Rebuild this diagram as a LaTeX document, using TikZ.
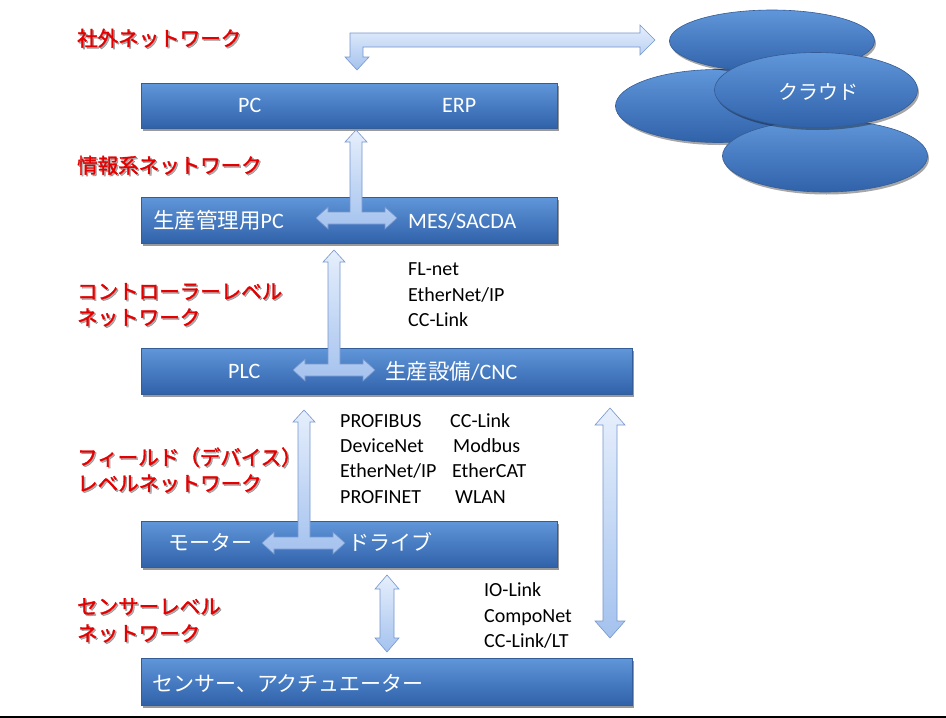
\documentclass[tikz,border=0pt]{standalone}
\usepackage{fontspec}
\setmainfont{Carlito}
\newfontfamily\jp{Noto Sans CJK JP}
\newfontfamily\jpb[FakeBold=1.6]{Noto Sans CJK JP}
\usetikzlibrary{shadows,shapes.geometric}
\definecolor{barTop}{RGB}{96,150,218}
\definecolor{barBot}{RGB}{48,98,170}
\definecolor{barEdge}{RGB}{52,92,150}
\definecolor{arrTop}{RGB}{230,239,252}
\definecolor{arrBot}{RGB}{164,194,238}
\definecolor{arrEdge}{RGB}{118,150,205}
\definecolor{lblred}{RGB}{228,0,0}
\definecolor{baseline}{RGB}{58,72,88}
\begin{document}
\begin{tikzpicture}[x=1pt,y=-1pt,
  bar/.style={rectangle, draw=barEdge, line width=0.6pt, top color=barTop, bottom color=barBot,
    drop shadow={shadow xshift=1.5pt, shadow yshift=-2.5pt, opacity=0.4, fill=black}, inner sep=0pt},
  cloudell/.style={ellipse, draw=barEdge, line width=0.6pt, top color=barTop, bottom color=barBot,
    drop shadow={shadow xshift=1.5pt, shadow yshift=-2.5pt, opacity=0.35, fill=black}, inner sep=0pt},
  blockarrow/.style={draw=arrEdge, line width=0.6pt, top color=arrTop, bottom color=arrBot, line join=miter},
  bartxt/.style={text=white, font=\fontsize{22}{26}\selectfont, anchor=base west, inner sep=0pt},
  redtxt/.style={text=lblred, font=\jpb\fontsize{20.5}{26}\selectfont, anchor=base west, inner sep=0pt},
  redshadow/.style={text=black, opacity=0.3, font=\jpb\fontsize{20.5}{26}\selectfont, anchor=base west, inner sep=0pt},
  blktxt/.style={text=black, font=\fontsize{20}{24}\selectfont, anchor=base west, inner sep=0pt}
]
\useasboundingbox (0,0) rectangle (946,718);
\fill[white] (0,0) rectangle (946,718);
\fill[baseline] (0,715.5) rectangle (946,718);

% ---- bars
\node[bar, minimum width=416, minimum height=45] (bar1) at (349,105.5) {};
\node[bar, minimum width=416, minimum height=46] (bar2) at (349,220) {};
\node[bar, minimum width=491, minimum height=46] (bar3) at (386.5,371) {};
\node[bar, minimum width=416, minimum height=46] (bar4) at (349,544) {};
\node[bar, minimum width=491, minimum height=47] (bar5) at (386.5,681.5) {};

% ---- cloud
\node[cloudell, minimum width=205, minimum height=73] (cB) at (718,106) {};
\node[cloudell, minimum width=205, minimum height=62] (cA) at (772,41) {};
\node[cloudell, minimum width=205, minimum height=72] (cC) at (825,156) {};
\node[cloudell, minimum width=203, minimum height=75] (cD) at (816,90) {};
\node[text=white, font=\jp\fontsize{20}{24}\selectfont, inner sep=0pt] (cloudtxt) at (818,92) {クラウド};

% ---- block arrows
\path[blockarrow] (357,70) -- (345,57) -- (350,57) -- (350,33) -- (640,33) -- (640,25) -- (655,40)
  -- (640,55) -- (640,47) -- (363,47) -- (363,57) -- (369,57) -- cycle;
\path[blockarrow] (316,218) -- (328,207) -- (328,212) -- (350,212) -- (350,142) -- (345,142) -- (356,130)
  -- (367,142) -- (362,142) -- (362,212) -- (385,212) -- (385,207) -- (397,218) -- (385,229)
  -- (385,224) -- (328,224) -- (328,229) -- cycle;
\path[blockarrow] (293,370) -- (305,359) -- (305,364) -- (328,364) -- (328,262) -- (323,262) -- (334,250)
  -- (345,262) -- (340,262) -- (340,364) -- (363,364) -- (363,359) -- (375,370) -- (363,381)
  -- (363,376) -- (305,376) -- (305,381) -- cycle;
\path[blockarrow] (262,543) -- (274,532) -- (274,537) -- (298,537) -- (298,422) -- (293,422) -- (304,410)
  -- (315,422) -- (310,422) -- (310,537) -- (333,537) -- (333,532) -- (345,543) -- (333,554)
  -- (333,549) -- (274,549) -- (274,554) -- cycle;
\path[blockarrow] (387,575) -- (399,589) -- (394,589) -- (394,638) -- (399,638) -- (387,652) -- (375,638)
  -- (380,638) -- (380,589) -- (375,589) -- cycle;
\path[blockarrow] (610,408) -- (625,425) -- (617,425) -- (617,621) -- (625,621) -- (610,638) -- (595,621)
  -- (603,621) -- (603,425) -- (595,425) -- cycle;

% ---- bar texts
\node[bartxt] (t1a) at (238,112.5) {PC};
\node[bartxt] (t1b) at (442,112.5) {ERP};
\node[bartxt] (t2a) at (153,228) {{\jp\fontsize{21.5}{26}\selectfont 生産管理用}PC};
\node[bartxt] (t2b) at (408,228) {MES/SACDA};
\node[bartxt] (t3a) at (228,378.5) {PLC};
\node[bartxt] (t3b) at (385,379) {{\jp\fontsize{21.5}{26}\selectfont 生産設備}/CNC};
\node[bartxt, font=\jp\fontsize{21}{26}\selectfont] (t4a) at (168,550) {モーター};
\node[bartxt, font=\jp\fontsize{21}{26}\selectfont] (t4b) at (348,550) {ドライブ};
\node[bartxt, font=\jp\fontsize{21}{26}\selectfont] (t5a) at (152,691) {センサー、アクチュエーター};

% ---- red level labels (with soft shadow)
\node[redshadow] (s1) at (78.5,47.5) {社外ネットワーク};
\node[redtxt] (l1) at (77,46) {社外ネットワーク};
\node[redshadow] (s2) at (78.5,174.5) {情報系ネットワーク};
\node[redtxt] (l2) at (77,173) {情報系ネットワーク};
\node[redshadow] (s3a) at (78.5,300.5) {コントローラーレベル};
\node[redtxt] (l3a) at (77,299) {コントローラーレベル};
\node[redshadow] (s3b) at (78.5,326.5) {ネットワーク};
\node[redtxt] (l3b) at (77,325) {ネットワーク};
\node[redshadow] (s4a) at (78.5,466.5) {フィールド（デバイス）};
\node[redtxt] (l4a) at (77,465) {フィールド（デバイス）};
\node[redshadow] (s4b) at (78.5,492.5) {レベルネットワーク};
\node[redtxt] (l4b) at (77,491) {レベルネットワーク};
\node[redshadow] (s5a) at (78.5,615.5) {センサーレベル};
\node[redtxt] (l5a) at (77,614) {センサーレベル};
\node[redshadow] (s5b) at (78.5,642.5) {ネットワーク};
\node[redtxt] (l5b) at (77,641) {ネットワーク};

% ---- protocol lists
\node[blktxt] (p1) at (408,275.5) {FL-net};
\node[blktxt] (p2) at (408,301.5) {EtherNet/IP};
\node[blktxt] (p3) at (408,326.5) {CC-Link};

\node[blktxt] (q1) at (340,427.5) {PROFIBUS};
\node[blktxt] (q2) at (340,452.5) {DeviceNet};
\node[blktxt] (q3) at (340,477.5) {EtherNet/IP};
\node[blktxt] (q4) at (340,503.5) {PROFINET};
\node[blktxt] (r1) at (450,427.5) {CC-Link};
\node[blktxt] (r2) at (453,452.5) {Modbus};
\node[blktxt] (r3) at (452,477.5) {EtherCAT};
\node[blktxt] (r4) at (455,503.5) {WLAN};

\node[blktxt] (u1) at (484,596.5) {IO-Link};
\node[blktxt] (u2) at (484,622.5) {CompoNet};
\node[blktxt] (u3) at (484,647.5) {CC-Link/LT};
\end{tikzpicture}
\end{document}
